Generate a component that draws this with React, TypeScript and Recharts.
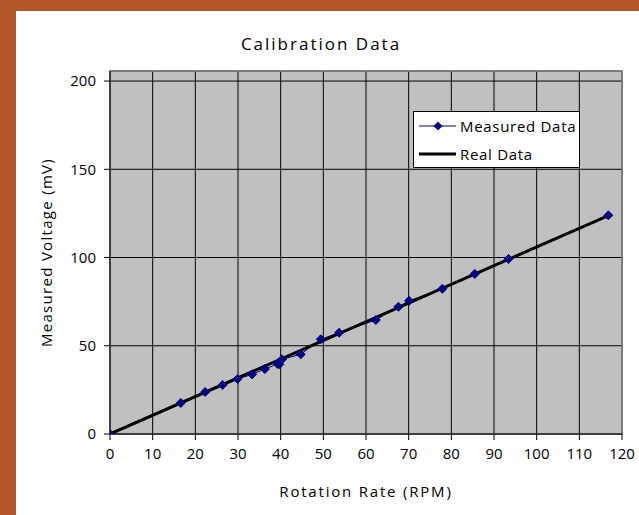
import React from "react";
import {
  LineChart,
  Line,
  XAxis,
  YAxis,
  CartesianGrid,
  ReferenceArea,
} from "recharts";

// rotation rate (RPM) and measured voltage (mV)
const rpm = [0, 16.6, 22.3, 26.4, 29.9, 33.3, 36.3, 39.3, 39.7, 40.3, 44.7, 49.4, 53.7, 62.3, 67.6, 70.1, 77.9, 85.5, 93.4, 116.8];
const measuredMv = [0, 17.6, 23.8, 27.8, 31.2, 33.8, 36.8, 39.7, 39.5, 42.3, 45.2, 53.7, 57.4, 64.6, 72.1, 75.5, 82.3, 90.7, 99.2, 123.9];

// real data is a straight line; its two ends
const realRpm = [0, 116.8];
const realMv = [0, 123.8];

const xTicks = [0, 10, 20, 30, 40, 50, 60, 70, 80, 90, 100, 110, 120];
const yTicks = [0, 50, 100, 150, 200];

const measured = rpm.map((x, i) => ({ x, y: measuredMv[i] }));
const real = realRpm.map((x, i) => ({ x, y: realMv[i] }));

const FONT = "'Open Sans', 'Noto Sans', sans-serif";

function Diamond(props: any) {
  const { cx, cy } = props;
  if (cx == null || cy == null) return null;
  const r = 4.5;
  return (
    <polygon
      points={`${cx},${cy - r} ${cx + r},${cy} ${cx},${cy + r} ${cx - r},${cy}`}
      fill="#000080"
      stroke="#000080"
      strokeWidth={1}
    />
  );
}

function LegendBox() {
  return (
    <div
      style={{
        position: "absolute",
        left: 413,
        top: 111,
        width: 165,
        height: 55,
        background: "#fff",
        border: "1px solid #000",
        fontFamily: FONT,
        fontSize: 15,
        color: "#000",
        letterSpacing: 0.7,
      }}
    >
      <div style={{ display: "flex", alignItems: "center", height: 28, paddingLeft: 5 }}>
        <svg width={38} height={12} style={{ marginRight: 3 }}>
          <line x1={0} y1={6} x2={37} y2={6} stroke="#000080" strokeWidth={1} />
          <polygon points="19,1.5 23.5,6 19,10.5 14.5,6" fill="#000080" />
        </svg>
        <span>Measured Data</span>
      </div>
      <div style={{ display: "flex", alignItems: "center", height: 27, paddingLeft: 5 }}>
        <svg width={38} height={12} style={{ marginRight: 3 }}>
          <line x1={0} y1={6} x2={37} y2={6} stroke="#000" strokeWidth={3} />
        </svg>
        <span>Real Data</span>
      </div>
    </div>
  );
}

export default function App() {
  return (
    <div
      style={{
        position: "absolute",
        left: 0,
        top: 0,
        width: 639,
        height: 515,
        background: "#B25528",
      }}
    >
      <div
        style={{
          position: "absolute",
          left: 16,
          top: 11,
          width: 623,
          height: 504,
          background: "#fff",
        }}
      />
      <div
        style={{
          position: "absolute",
          left: 16,
          width: 610,
          top: 32,
          textAlign: "center",
          fontFamily: FONT,
          fontSize: 17,
          letterSpacing: 2,
          color: "#000",
        }}
      >
        Calibration Data
      </div>
      <div style={{ position: "absolute", left: 0, top: 0 }}>
        <LineChart
          width={639}
          height={515}
          margin={{ top: 71, right: 17, bottom: 51, left: 50 }}
        >
          <CartesianGrid
            stroke="#000"
            strokeWidth={1}
            fill="#C0C0C0"
            fillOpacity={1}
          />
          <ReferenceArea
            x1={0}
            x2={120}
            y1={0}
            y2={205.7}
            fill="none"
            stroke="#808080"
            strokeWidth={1.5}
            ifOverflow="extendDomain"
          />
          <XAxis
            type="number"
            dataKey="x"
            domain={[0, 120]}
            ticks={xTicks}
            height={30}
            stroke="#000"
            tickMargin={8}
            tick={{ fill: "#000", fontSize: 15, fontFamily: FONT }}
            allowDataOverflow
            label={{
              value: "Rotation Rate (RPM)",
              position: "insideBottom",
              offset: -33,
              style: { fill: "#000", fontSize: 15, fontFamily: FONT, letterSpacing: 1.8 },
            }}
          />
          <YAxis
            type="number"
            dataKey="y"
            domain={[0, 205.7]}
            ticks={yTicks}
            width={60}
            stroke="#000"
            tickMargin={8}
            tick={{ fill: "#000", fontSize: 15, fontFamily: FONT }}
            allowDataOverflow
            label={{
              value: "Measured Voltage (mV)",
              angle: -90,
              position: "insideLeft",
              offset: -3,
              style: { fill: "#000", fontSize: 15, fontFamily: FONT, letterSpacing: 1.3, textAnchor: "middle" },
            }}
          />
          <Line
            data={measured}
            dataKey="y"
            name="Measured Data"
            stroke="#000080"
            strokeWidth={1}
            dot={<Diamond />}
            activeDot={false}
            isAnimationActive={false}
          />
          <Line
            data={real}
            dataKey="y"
            name="Real Data"
            stroke="#000"
            strokeWidth={3}
            dot={false}
            activeDot={false}
            isAnimationActive={false}
          />
        </LineChart>
      </div>
      <LegendBox />
    </div>
  );
}
